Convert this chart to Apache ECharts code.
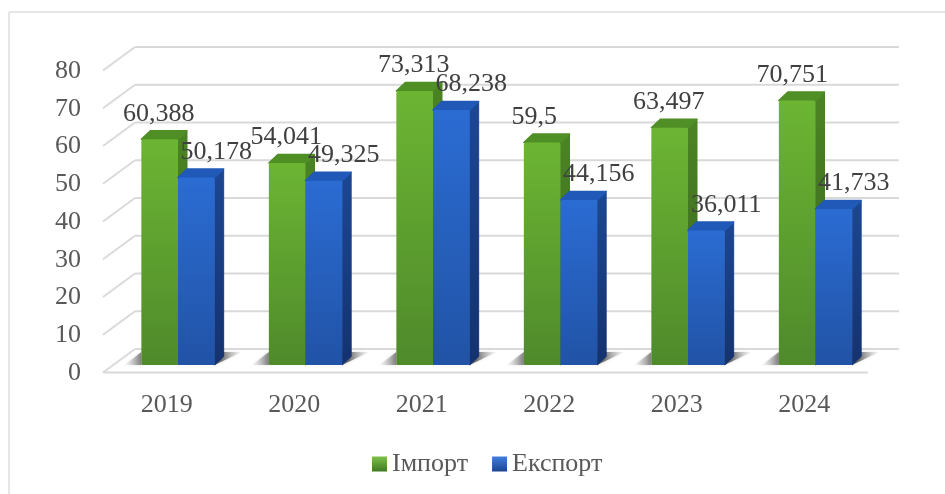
<!DOCTYPE html>
<html><head><meta charset="utf-8">
<style>html,body{margin:0;padding:0;background:#fff}#c{width:945px;height:494px}</style>
<script src="https://cdn.jsdelivr.net/npm/echarts@6/dist/echarts.min.js"></script>
</head><body><div id="c"></div>
<script>
const categories = ['2019','2020','2021','2022','2023','2024'];
const importValues = [60.388,54.041,73.313,59.5,63.497,70.751];
const exportValues = [50.178,49.325,68.238,44.156,36.011,41.733];
const tickValues = [0,10,20,30,40,50,60,70,80];
const seriesNames = ['Імпорт','Експорт'];

const font = '"Liberation Serif","Times New Roman",serif';
const textColor = '#595959';
const depthX = 9, depthY = 8.5;
const floorDX = 32, floorDY = 23.5;
const W = 945, H = 494;
const labelNudge = {3:{0:-7}, 5:{0:-4}};

function grad(a,b){return new echarts.graphic.LinearGradient(0,0,0,1,[{offset:0,color:a},{offset:1,color:b}]);}
const palette = [
 {front:grad('#6cb533','#4f8a2b'), side:grad('#4b8424','#38651e'), top:'#4f8f26', leg:grad('#7fc04a','#3f7a22')},
 {front:grad('#2b6cd3','#2153a6'), side:grad('#1c4793','#14326e'), top:'#2059b8', leg:grad('#3f7fdc','#1c4590')}
];

function barItem(sIdx){
  return function(params, api){
    const i = params.dataIndex, v = api.value(1);
    const base = api.coord([api.value(0),0]), topP = api.coord([api.value(0),v]);
    const band = api.size([1,0])[0], w = band*0.2875;
    const x = sIdx===0 ? base[0]-w : base[0];
    const y = topP[1], b = base[1];
    const p = palette[sIdx];
    const kids = [];
    if(sIdx===1){
      kids.push({type:'polygon',shape:{points:[[x+w,b],[x+w+27,b-13],[x+w,b-13]]},
       style:{fill:new echarts.graphic.LinearGradient(0,0,1,0,[{offset:0.25,color:'rgba(70,70,70,0.75)'},{offset:1,color:'rgba(190,190,190,0.1)'}]),
              shadowBlur:3,shadowColor:'rgba(150,150,150,0.5)'},silent:true});
    } else {
      kids.push({type:'polygon',shape:{points:[[x-17,b],[x,b-13],[x,b]]},
       style:{fill:new echarts.graphic.LinearGradient(0,0,1,0,[{offset:0,color:'rgba(200,200,200,0.1)'},{offset:1,color:'rgba(90,90,90,0.75)'}]),
              shadowBlur:3,shadowColor:'rgba(150,150,150,0.5)'},silent:true});
    }
    kids.push(
      {type:'polygon',shape:{points:[[x+w,y],[x+w+depthX,y-depthY],[x+w+depthX,b-depthY],[x+w,b]]},style:{fill:p.side,stroke:p.side,lineWidth:1,lineJoin:'round'}},
      {type:'polygon',shape:{points:[[x,y],[x+depthX,y-depthY],[x+w+depthX,y-depthY],[x+w,y]]},style:{fill:p.top,stroke:p.top,lineWidth:1.5,lineJoin:'round'}},
      {type:'rect',shape:{x:x,y:y,width:w,height:b-y,r:[2,2,1,1]},style:{fill:p.front}}
    );
    const nudge = (labelNudge[i]&&labelNudge[i][sIdx])||0;
    kids.push({type:'text',z2:50,style:{text:String(v).replace('.',','),x:x+w/2+(sIdx===0?-1:20)+nudge,y:y-25.5,
      align:'center',verticalAlign:'middle',font:'26px '+font,fill:'#404040'}});
    return {type:'group',children:kids};
  };
}
function wallItem(params, api){
  const v = api.value(1);
  const l = api.coord([0,v]);
  const rightX = params.coordSys.x + params.coordSys.width;
  const st = {stroke:'#d9d9d9',lineWidth:1.8};
  const kids = [
    {type:'line',shape:{x1:l[0],y1:l[1],x2:rightX,y2:l[1]},style:st},
    {type:'line',shape:{x1:l[0],y1:l[1],x2:l[0]-floorDX,y2:l[1]+floorDY},style:st}
  ];
  if(v===0){
    kids.push({type:'line',shape:{x1:l[0]-floorDX,y1:l[1]+floorDY,x2:rightX-floorDX+1,y2:l[1]+floorDY},style:st});
  }
  return {type:'group',children:kids};
}

const chart = echarts.init(document.getElementById('c'),null,{renderer:'canvas'});
const hidden = {show:false};
chart.setOption({
  animation:false,
  backgroundColor:'#fff',
  graphic:[
    {type:'line',silent:true,shape:{x1:9,y1:12,x2:945,y2:12},style:{stroke:'#dedede',lineWidth:1.5}},
    {type:'line',silent:true,shape:{x1:9,y1:12,x2:9,y2:494},style:{stroke:'#dedede',lineWidth:1.5}}
  ],
  legend:{data:[{name:seriesNames[0],itemStyle:{color:palette[0].leg}},{name:seriesNames[1],itemStyle:{color:palette[1].leg}}],
    left:367,top:446,itemWidth:15,itemHeight:15,itemGap:24,icon:'rect',
    textStyle:{fontFamily:font,fontSize:26,color:textColor}},
  grid:[
    {left:135,right:W-899,top:47,bottom:H-349},   // back wall
    {left:103,right:W-868,top:71,bottom:H-373},   // front plane: axis labels
    {left:114.25,right:W-879.25,top:66,bottom:H-365} // bars plane
  ],
  xAxis:[
    {gridIndex:0,type:'value',min:0,max:1,show:false},
    {gridIndex:1,type:'category',data:categories,axisLine:hidden,axisTick:hidden,splitLine:hidden,
      axisLabel:{margin:19,fontFamily:font,fontSize:26,color:textColor,align:'center'}},
    {gridIndex:2,type:'category',data:categories,show:false}
  ],
  yAxis:[
    {gridIndex:0,type:'value',min:0,max:80,interval:10,show:false},
    {gridIndex:1,type:'value',min:0,max:80,interval:10,axisLine:hidden,axisTick:hidden,splitLine:hidden,
      axisLabel:{margin:22,fontFamily:font,fontSize:26,color:textColor}},
    {gridIndex:2,type:'value',min:0,max:80,interval:10,show:false}
  ],
  series:[
    {type:'custom',xAxisIndex:0,yAxisIndex:0,silent:true,z:1,renderItem:wallItem,encode:{x:0,y:1},data:tickValues.map(v=>[0,v])},
    {type:'custom',name:seriesNames[0],xAxisIndex:2,yAxisIndex:2,z:2,renderItem:barItem(0),encode:{x:0,y:1},
     itemStyle:{color:palette[0].leg},data:importValues.map((v,i)=>[i,v])},
    {type:'custom',name:seriesNames[1],xAxisIndex:2,yAxisIndex:2,z:3,renderItem:barItem(1),encode:{x:0,y:1},
     itemStyle:{color:palette[1].leg},data:exportValues.map((v,i)=>[i,v])}
  ]
});
</script></body></html>
